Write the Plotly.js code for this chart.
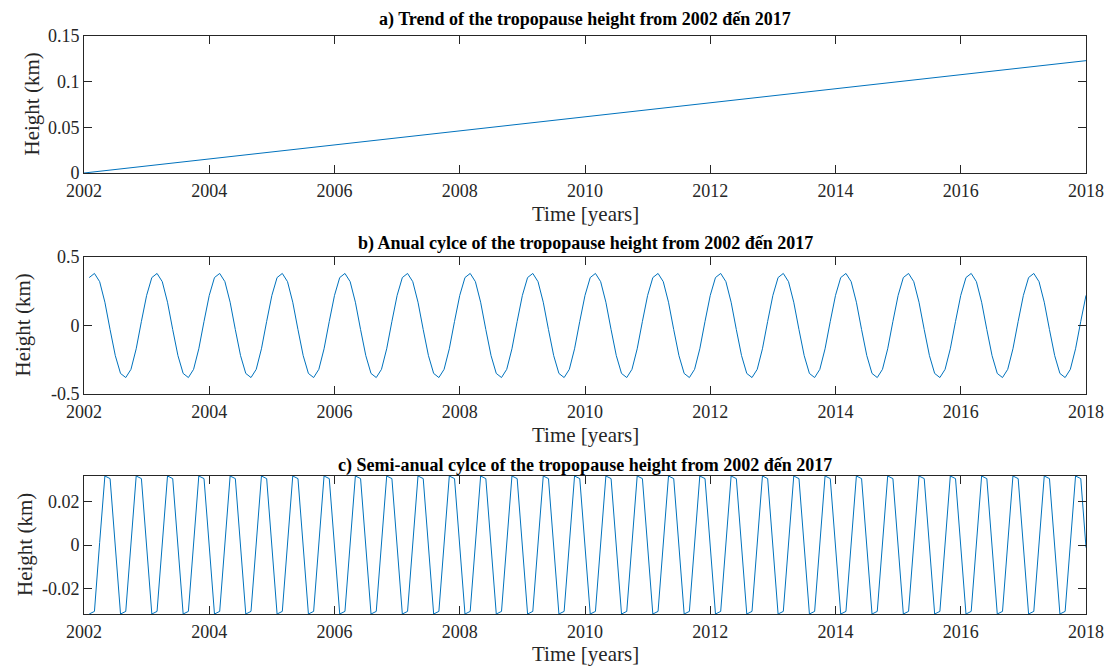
<!DOCTYPE html>
<html>
<head>
<meta charset="utf-8">
<script src="https://cdn.plot.ly/plotly-3.0.1.min.js"></script>
<style>html,body{margin:0;padding:0;background:#fff;}#chart{width:1106px;height:666px;}</style>
</head>
<body>
<div id="chart"></div>
<script>
// ---------- data ----------
const trendTime = [2002, 2018];
const trendHeight = [0, 0.123];

// monthly sample times: 2002 + 1/12 ... 2018
const months = [];
for (let i = 1; i <= 192; i++) months.push(2002 + i / 12);

const annualHeight = [
  0.35,0.38,0.32,0.17,-0.03,-0.22,-0.35,-0.38,-0.32,-0.17,0.03,0.22,
  0.35,0.38,0.32,0.17,-0.03,-0.22,-0.35,-0.38,-0.32,-0.17,0.03,0.22,
  0.35,0.38,0.32,0.17,-0.03,-0.22,-0.35,-0.38,-0.32,-0.17,0.03,0.22,
  0.35,0.38,0.32,0.17,-0.03,-0.22,-0.35,-0.38,-0.32,-0.17,0.03,0.22,
  0.35,0.38,0.32,0.17,-0.03,-0.22,-0.35,-0.38,-0.32,-0.17,0.03,0.22,
  0.35,0.38,0.32,0.17,-0.03,-0.22,-0.35,-0.38,-0.32,-0.17,0.03,0.22,
  0.35,0.38,0.32,0.17,-0.03,-0.22,-0.35,-0.38,-0.32,-0.17,0.03,0.22,
  0.35,0.38,0.32,0.17,-0.03,-0.22,-0.35,-0.38,-0.32,-0.17,0.03,0.22,
  0.35,0.38,0.32,0.17,-0.03,-0.22,-0.35,-0.38,-0.32,-0.17,0.03,0.22,
  0.35,0.38,0.32,0.17,-0.03,-0.22,-0.35,-0.38,-0.32,-0.17,0.03,0.22,
  0.35,0.38,0.32,0.17,-0.03,-0.22,-0.35,-0.38,-0.32,-0.17,0.03,0.22,
  0.35,0.38,0.32,0.17,-0.03,-0.22,-0.35,-0.38,-0.32,-0.17,0.03,0.22,
  0.35,0.38,0.32,0.17,-0.03,-0.22,-0.35,-0.38,-0.32,-0.17,0.03,0.22,
  0.35,0.38,0.32,0.17,-0.03,-0.22,-0.35,-0.38,-0.32,-0.17,0.03,0.22,
  0.35,0.38,0.32,0.17,-0.03,-0.22,-0.35,-0.38,-0.32,-0.17,0.03,0.22,
  0.35,0.38,0.32,0.17,-0.03,-0.22,-0.35,-0.38,-0.32,-0.17,0.03,0.22
];

const semiAnnualHeight = [
  -0.0318,-0.0306,0.0012,0.0318,0.0306,-0.0012,-0.0318,-0.0306,0.0012,0.0318,0.0306,-0.0012,
  -0.0318,-0.0306,0.0012,0.0318,0.0306,-0.0012,-0.0318,-0.0306,0.0012,0.0318,0.0306,-0.0012,
  -0.0318,-0.0306,0.0012,0.0318,0.0306,-0.0012,-0.0318,-0.0306,0.0012,0.0318,0.0306,-0.0012,
  -0.0318,-0.0306,0.0012,0.0318,0.0306,-0.0012,-0.0318,-0.0306,0.0012,0.0318,0.0306,-0.0012,
  -0.0318,-0.0306,0.0012,0.0318,0.0306,-0.0012,-0.0318,-0.0306,0.0012,0.0318,0.0306,-0.0012,
  -0.0318,-0.0306,0.0012,0.0318,0.0306,-0.0012,-0.0318,-0.0306,0.0012,0.0318,0.0306,-0.0012,
  -0.0318,-0.0306,0.0012,0.0318,0.0306,-0.0012,-0.0318,-0.0306,0.0012,0.0318,0.0306,-0.0012,
  -0.0318,-0.0306,0.0012,0.0318,0.0306,-0.0012,-0.0318,-0.0306,0.0012,0.0318,0.0306,-0.0012,
  -0.0318,-0.0306,0.0012,0.0318,0.0306,-0.0012,-0.0318,-0.0306,0.0012,0.0318,0.0306,-0.0012,
  -0.0318,-0.0306,0.0012,0.0318,0.0306,-0.0012,-0.0318,-0.0306,0.0012,0.0318,0.0306,-0.0012,
  -0.0318,-0.0306,0.0012,0.0318,0.0306,-0.0012,-0.0318,-0.0306,0.0012,0.0318,0.0306,-0.0012,
  -0.0318,-0.0306,0.0012,0.0318,0.0306,-0.0012,-0.0318,-0.0306,0.0012,0.0318,0.0306,-0.0012,
  -0.0318,-0.0306,0.0012,0.0318,0.0306,-0.0012,-0.0318,-0.0306,0.0012,0.0318,0.0306,-0.0012,
  -0.0318,-0.0306,0.0012,0.0318,0.0306,-0.0012,-0.0318,-0.0306,0.0012,0.0318,0.0306,-0.0012,
  -0.0318,-0.0306,0.0012,0.0318,0.0306,-0.0012,-0.0318,-0.0306,0.0012,0.0318,0.0306,-0.0012,
  -0.0318,-0.0306,0.0012,0.0318,0.0306,-0.0012,-0.0318,-0.0306,0.0012,0.0318,0.0306,-0.0012
];

const xTicks = [2002, 2004, 2006, 2008, 2010, 2012, 2014, 2016, 2018];
const yTicksA = [0, 0.05, 0.1, 0.15];
const yTickTextA = ['0', '0.05', '0.1', '0.15'];
const yTicksB = [-0.5, 0, 0.5];
const yTickTextB = ['-0.5', '0', '0.5'];
const yTicksC = [-0.02, 0, 0.02];
const yTickTextC = ['-0.02', '0', '0.02'];

const titles = [
  'a) Trend of the tropopause height from 2002 đến 2017',
  'b) Anual cylce of the tropopause height from 2002 đến 2017',
  'c) Semi-anual cylce of the tropopause height from 2002 đến 2017'
];

// ---------- chart ----------
const H = 666;
const FONT = 'Liberation Serif, Times New Roman, serif';
const INK = '#262626';
const LINE = '#0072BD';
const py = v => (H - v) / H;  // pixel row -> paper fraction (margins t=b=0)

function xAxis(anchor) {
  return {
    anchor: anchor, range: [2002, 2018], tickvals: xTicks, ticktext: xTicks.map(String),
    ticks: 'inside', ticklen: 8, tickwidth: 1, tickcolor: INK, mirror: 'ticks',
    showline: true, linecolor: INK, linewidth: 1, showgrid: false, zeroline: false,
    tickfont: {family: FONT, size: 18, color: INK}, fixedrange: true, ticklabelstandoff: 1
  };
}
function yAxis(anchor, domain, range, vals, text) {
  return {
    anchor: anchor, domain: domain, range: range, tickvals: vals, ticktext: text,
    ticks: 'inside', ticklen: 8, tickwidth: 1, tickcolor: INK, mirror: 'ticks',
    showline: true, linecolor: INK, linewidth: 1, showgrid: false, zeroline: false,
    tickfont: {family: FONT, size: 18, color: INK}, fixedrange: true
  };
}

const traces = [
  {x: trendTime, y: trendHeight, xaxis: 'x', yaxis: 'y', mode: 'lines', line: {color: LINE, width: 1}, hoverinfo: 'skip'},
  {x: months, y: annualHeight, xaxis: 'x2', yaxis: 'y2', mode: 'lines', line: {color: LINE, width: 1}, hoverinfo: 'skip'},
  {x: months, y: semiAnnualHeight, xaxis: 'x3', yaxis: 'y3', mode: 'lines', line: {color: LINE, width: 1}, hoverinfo: 'skip'}
];

const annotations = [];
const titleY = [20, 243, 465];
const xTitleY = [214, 435, 654];
const yTitleX = [32, 22, 25];
const plotMid = [104.5, 325.5, 545];
titles.forEach((t, i) => {
  annotations.push({text: '<b>' + t + '</b>', xref: 'paper', yref: 'paper', x: 0.5, y: py(titleY[i]),
    xanchor: 'center', yanchor: 'middle', showarrow: false, font: {family: FONT, size: 18, color: '#000'}});
  annotations.push({text: 'Time [years]', xref: 'paper', yref: 'paper', x: 0.5, y: py(xTitleY[i]),
    xanchor: 'center', yanchor: 'middle', showarrow: false, borderpad: 0, font: {family: FONT, size: 21, color: INK}});
  annotations.push({text: 'Height (km)', xref: 'paper', yref: 'paper', x: (yTitleX[i] - 84) / 1002, y: py(plotMid[i]),
    xanchor: 'center', yanchor: 'middle', textangle: -90, showarrow: false, font: {family: FONT, size: 21, color: INK}});
});

const layout = {
  width: 1106, height: 666,
  margin: {l: 84, r: 20, t: 0, b: 0},
  paper_bgcolor: '#fff', plot_bgcolor: '#fff',
  showlegend: false,
  xaxis: xAxis('y'),
  yaxis: yAxis('x', [py(173), py(36)], [0, 0.15], yTicksA, yTickTextA),
  xaxis2: xAxis('y2'),
  yaxis2: yAxis('x2', [py(394), py(257)], [-0.5, 0.5], yTicksB, yTickTextB),
  xaxis3: xAxis('y3'),
  yaxis3: yAxis('x3', [py(614), py(476)], [-0.0318, 0.0318], yTicksC, yTickTextC),
  annotations: annotations
};

Plotly.newPlot('chart', traces, layout, {displayModeBar: false, staticPlot: true});
</script>
</body>
</html>
